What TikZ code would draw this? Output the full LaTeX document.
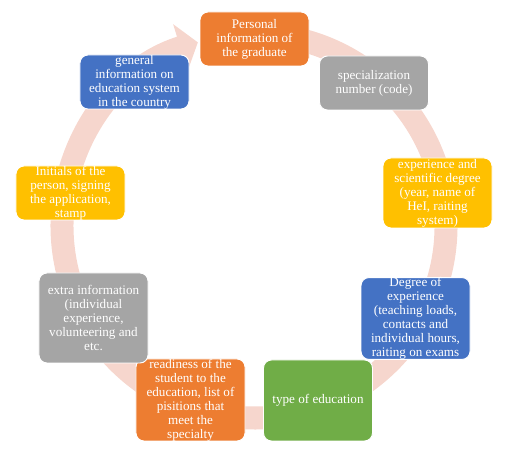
\documentclass[tikz,border=0pt]{standalone}
\usepackage{fontspec}
\setmainfont{Liberation Serif}
\usetikzlibrary{arrows.meta}

\definecolor{ringpink}{HTML}{F6D6CD}
\definecolor{boxorange}{HTML}{ED7D31}
\definecolor{boxgray}{HTML}{A5A5A5}
\definecolor{boxyellow}{HTML}{FFC000}
\definecolor{boxblue}{HTML}{4472C4}
\definecolor{boxgreen}{HTML}{70AD47}

\begin{document}
\begin{tikzpicture}[
    x=0.03cm, y=0.03cm,
    font=\fontsize{11.2}{11.9}\selectfont,
    box/.style={rectangle, rounded corners=0.24cm, draw=white, line width=0.8pt,
                text=white, align=center, inner sep=0pt, minimum width=3.27cm}
]

\useasboundingbox (0,0) rectangle (508,460);

% Cycle ring with its arrow head at the top left
\coordinate (ringc) at (254,234);
\draw [ringpink, line width=0.69cm, -{Triangle[length=0.55cm, width=1.45cm]}]
  ([shift={(95:5.76cm)}]ringc) arc [start angle=95, end angle=-253, radius=5.76cm];

% Boxes, clockwise from the top
\node (personal) at (254.5,421) [box, fill=boxorange, minimum height=1.62cm]
  {Personal\\information of\\the graduate};
\node (special) at (374,377) [box, fill=boxgray, minimum height=1.62cm]
  {specialization\\number (code)};
\node (degree) at (437.5,267) [box, fill=boxyellow, minimum height=2.1cm]
  {experience and\\scientific degree\\(year, name of\\HeI, raiting\\system)};
\node (experience) at (415.5,141.5) [box, fill=boxblue, minimum height=2.25cm]
  {Degree of\\experience\\(teaching loads,\\contacts and\\individual hours,\\raiting on exams};
\node (type) at (318,59.5) [box, fill=boxgreen, minimum height=2.43cm]
  {type of education};
\node (readiness) at (190.5,60) [box, fill=boxorange, minimum height=2.46cm]
  {readiness of the\\student to the\\education, list of\\pisitions that\\meet the\\specialty};
\node (extra) at (93.5,142) [box, fill=boxgray, minimum height=2.7cm]
  {extra information\\(individual\\experience,\\volunteering and\\etc.};
\node (initials) at (70.5,267) [box, fill=boxyellow, minimum height=1.62cm]
  {Initials of the\\person, signing\\the application,\\stamp};
\node (general) at (134.5,378) [box, fill=boxblue, minimum height=1.62cm]
  {general\\information on\\education system\\in the country};

\end{tikzpicture}
\end{document}
